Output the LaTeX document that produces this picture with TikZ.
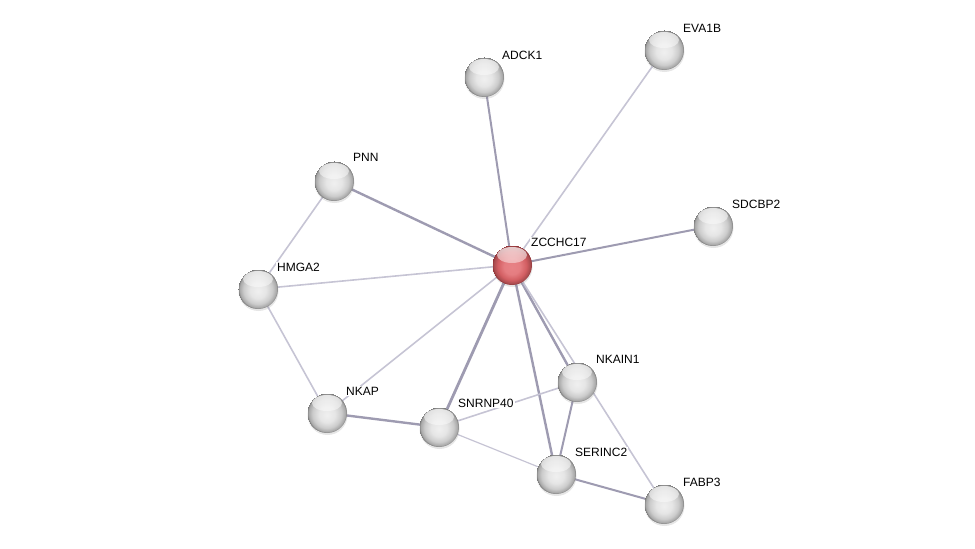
\documentclass[tikz,border=0pt]{standalone}
\usepackage{fontspec}
\setmainfont{Liberation Sans}
\usetikzlibrary{backgrounds, shadows, fadings}

\definecolor{edgelight}{RGB}{198,196,212}
\definecolor{edgedark}{RGB}{158,155,177}
\definecolor{redcore}{RGB}{232,130,134}
\definecolor{redbody}{RGB}{210,94,98}
\definecolor{redrim}{RGB}{140,46,50}

\pgfdeclareradialshading{greyball}{\pgfpoint{0bp}{-3bp}}{%
  color(0bp)=(black!6); color(10bp)=(black!10); color(18bp)=(black!20);
  color(23bp)=(black!34); color(25bp)=(black!55)}
\pgfdeclareradialshading{redball}{\pgfpoint{0bp}{-3bp}}{%
  color(0bp)=(redcore); color(10bp)=(redcore!85!redbody); color(18bp)=(redbody);
  color(23bp)=(redbody!80!black); color(25bp)=(redrim)}

\tikzset{
  gene/.style={circle, minimum size=40pt, inner sep=0pt, shading=greyball,
    drop shadow={shadow xshift=0.5pt, shadow yshift=-2pt, opacity=0.2},
    path picture={\fill[white, opacity=0.75, path fading=south]
      ([yshift=-10pt]path picture bounding box.north) ellipse (15pt and 8pt);}},
  query/.style={gene, shading=redball},
  lbl/.style={anchor=west, fill=white, inner sep=1pt, font=\fontsize{12}{14}\selectfont},
  weak/.style={edgelight, line width=1.6pt},
  strong/.style={edgedark, line width=2.4pt},
}

\begin{document}
\begin{tikzpicture}[x=1pt, y=-1pt]
\useasboundingbox (0,0) rectangle (975,549);

% proteins
\node[query] (zcchc17) at (512,265) {};
\node[gene] (adck1) at (484,77) {};
\node[gene] (eva1b) at (664,50) {};
\node[gene] (pnn) at (334,181) {};
\node[gene] (sdcbp2) at (713,226) {};
\node[gene] (hmga2) at (258,289) {};
\node[gene] (nkain1) at (577,382) {};
\node[gene] (nkap) at (327,413) {};
\node[gene] (snrnp40) at (439,427) {};
\node[gene] (serinc2) at (556,474) {};
\node[gene] (fabp3) at (664,504) {};

% interactions
\begin{scope}[on background layer]
\draw[strong, line width=2pt] (zcchc17.center) -- (adck1.center);
\draw[weak] (zcchc17.center) -- (eva1b.center);
\draw[strong] (zcchc17.center) -- (pnn.center);
\draw[strong, line width=2pt] (zcchc17.center) -- (sdcbp2.center);
\draw[weak] (zcchc17.center) -- (hmga2.center);
\draw[weak] (zcchc17.center) -- (nkap.center);
\draw[strong, line width=2.8pt] (zcchc17.center) -- (snrnp40.center);
\draw[strong] (zcchc17.center) -- (serinc2.center);
\draw[strong] (zcchc17.center) -- (nkain1.center);
\draw[weak] (zcchc17.center) -- (fabp3.center);
\draw[weak] (pnn.center) -- (hmga2.center);
\draw[weak] (hmga2.center) -- (nkap.center);
\draw[strong] (nkap.center) -- (snrnp40.center);
\draw[weak] (snrnp40.center) -- (nkain1.center);
\draw[weak, line width=1.2pt] (snrnp40.center) -- (serinc2.center);
\draw[strong, line width=2pt] (nkain1.center) -- (serinc2.center);
\draw[strong, line width=2pt] (serinc2.center) -- (fabp3.center);
\end{scope}

% names
\node[lbl] (zcchc17-l) at ([shift={(18,-23)}]zcchc17.center) {ZCCHC17};
\node[lbl] (adck1-l) at ([shift={(17,-22)}]adck1.center) {ADCK1};
\node[lbl] (eva1b-l) at ([shift={(18,-22)}]eva1b.center) {EVA1B};
\node[lbl] (pnn-l) at ([shift={(18,-24)}]pnn.center) {PNN};
\node[lbl] (sdcbp2-l) at ([shift={(18,-22)}]sdcbp2.center) {SDCBP2};
\node[lbl] (hmga2-l) at ([shift={(18,-22)}]hmga2.center) {HMGA2};
\node[lbl] (nkain1-l) at ([shift={(18,-23)}]nkain1.center) {NKAIN1};
\node[lbl] (nkap-l) at ([shift={(18,-22)}]nkap.center) {NKAP};
\node[lbl] (snrnp40-l) at ([shift={(18,-24)}]snrnp40.center) {SNRNP40};
\node[lbl] (serinc2-l) at ([shift={(18,-22)}]serinc2.center) {SERINC2};
\node[lbl] (fabp3-l) at ([shift={(18,-22)}]fabp3.center) {FABP3};

\end{tikzpicture}
\end{document}
